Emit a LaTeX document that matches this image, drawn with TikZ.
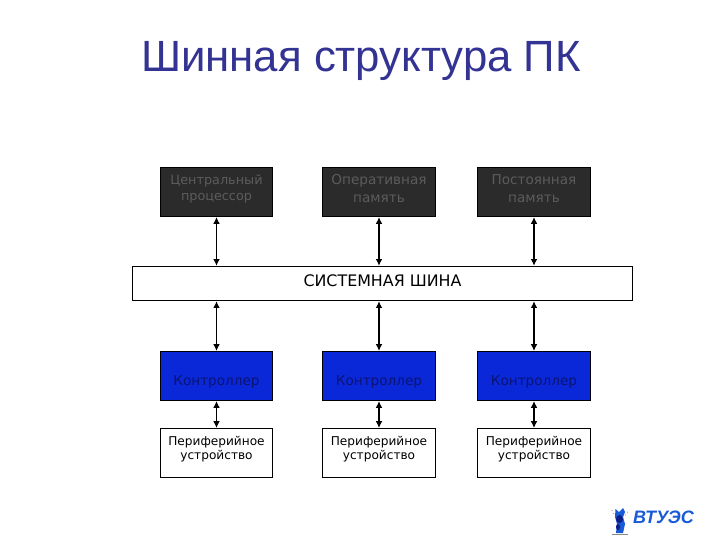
\documentclass[tikz,border=0pt]{standalone}
\usepackage{fontspec}
\usetikzlibrary{arrows.meta}
\setmainfont{DejaVu Sans}
\newfontfamily\titlefont{Liberation Sans}
\definecolor{titleblue}{RGB}{51,51,148}
\definecolor{darkfill}{RGB}{43,43,43}
\definecolor{darktext}{RGB}{92,92,92}
\definecolor{ctrlfill}{RGB}{10,40,215}
\definecolor{ctrltext}{RGB}{10,20,115}
\definecolor{logoblue}{RGB}{25,90,215}
\definecolor{logonavy}{RGB}{15,30,130}
\begin{document}
\begin{tikzpicture}[x=0.75pt,y=-0.75pt,
  box/.style={draw=black, line width=0.7pt, minimum width=84.5pt, minimum height=37pt, inner sep=0pt, align=center},
  membox/.style={box, fill=darkfill, text=darktext, text height=15pt, text depth=0pt, font=\fontsize{10.2}{12.8}\selectfont},
  ctrlbox/.style={box, fill=ctrlfill, text=ctrltext, text height=13.5pt, text depth=0pt, font=\fontsize{10.2}{12}\selectfont},
  devbox/.style={box, text height=9.8pt, text depth=0pt, font=\fontsize{9.1}{10.9}\selectfont},
  link/.style={{Latex[length=5pt,width=5pt]}-{Latex[length=5pt,width=5pt]}, line width=0.8pt}]
\useasboundingbox[fill=white] (0,0) rectangle (720,540);
% title
\node[text=titleblue, font=\titlefont\fontsize{32.8}{36}\selectfont] (title) at (361,60.5) {Шинная структура ПК};
% top row: processor and memory
\node[membox, text height=12pt, font=\fontsize{9.6}{12}\selectfont] (cpu) at (216.5,192) {Центральный\\процессор};
\node[membox] (ram) at (379,192) {Оперативная\\память};
\node[membox] (rom) at (534,192) {Постоянная\\память};
% the bus
\node[draw=black, line width=0.7pt, minimum width=375.5pt, minimum height=26pt, inner sep=0pt, text height=3.8pt, text depth=0pt, font=\fontsize{11.9}{14}\selectfont] (bus) at (382.5,283.5) {СИСТЕМНАЯ ШИНА};
% controllers
\node[ctrlbox] (ctrla) at (216.5,376) {Контроллер};
\node[ctrlbox] (ctrlb) at (379,376) {Контроллер};
\node[ctrlbox] (ctrlc) at (534,376) {Контроллер};
% peripheral devices
\node[devbox] (deva) at (216.5,453) {Периферийное\\устройство};
\node[devbox] (devb) at (379,453) {Периферийное\\устройство};
\node[devbox] (devc) at (534,453) {Периферийное\\устройство};
% links
\draw[link] (cpu) -- (cpu |- bus.north);
\draw[link] (ram) -- (ram |- bus.north);
\draw[link] (rom) -- (rom |- bus.north);
\draw[link] (ctrla) -- (ctrla |- bus.south);
\draw[link] (ctrlb) -- (ctrlb |- bus.south);
\draw[link] (ctrlc) -- (ctrlc |- bus.south);
\draw[link] (ctrla) -- (deva);
\draw[link] (ctrlb) -- (devb);
\draw[link] (ctrlc) -- (devc);
% logo
\draw[black!45, line width=0.6pt, dotted] (612,510) arc (180:0:8 and 7);
\fill[logoblue] (615.5,509) -- (619,512) -- (623,508) -- (625,512) -- (623,517) -- (625,524) -- (623,533) -- (616,533) -- (617,524) -- (615,517) -- cycle;
\fill[logonavy] (619.5,519) ellipse (3.5 and 4);
\fill[logonavy] (618,527) ellipse (2 and 3);
\draw[black!45, line width=0.6pt] (612,534) -- (628,534);
\node[text=logoblue, font=\titlefont\itshape\bfseries\fontsize{13.5}{14}\selectfont] (logo) at (663.5,517) {ВТУЭС};
\end{tikzpicture}
\end{document}
